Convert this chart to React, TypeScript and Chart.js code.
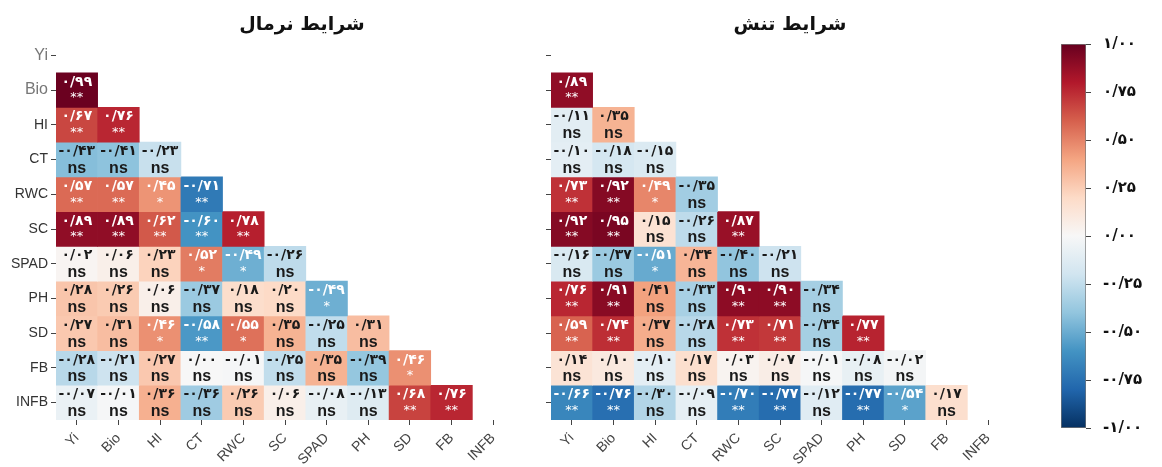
import React, { useEffect, useRef } from 'react';
import { Chart, registerables } from 'chart.js';
Chart.register(...registerables);

const variables = ['Yi', 'Bio', 'HI', 'CT', 'RWC', 'SC', 'SPAD', 'PH', 'SD', 'FB', 'INFB'];

const titleNormal = 'شرایط نرمال';
const titleStress = 'شرایط تنش';

const normalValues: number[][] = [
  [0.99],
  [0.67, 0.76],
  [-0.43, -0.41, -0.23],
  [0.57, 0.57, 0.45, -0.71],
  [0.89, 0.89, 0.62, -0.6, 0.78],
  [0.02, 0.06, 0.23, 0.52, -0.49, -0.26],
  [0.28, 0.26, 0.06, -0.37, 0.18, 0.2, -0.49],
  [0.27, 0.31, 0.46, -0.58, 0.55, 0.35, -0.25, 0.31],
  [-0.28, -0.21, 0.27, 0.0, -0.01, -0.25, 0.35, -0.39, 0.46],
  [-0.07, -0.01, 0.36, -0.36, 0.26, 0.06, -0.08, -0.13, 0.68, 0.76],
];
const normalSig: string[][] = [
  ['**'],
  ['**', '**'],
  ['ns', 'ns', 'ns'],
  ['**', '**', '*', '**'],
  ['**', '**', '**', '**', '**'],
  ['ns', 'ns', 'ns', '*', '*', 'ns'],
  ['ns', 'ns', 'ns', 'ns', 'ns', 'ns', '*'],
  ['ns', 'ns', '*', '**', '*', 'ns', 'ns', 'ns'],
  ['ns', 'ns', 'ns', 'ns', 'ns', 'ns', 'ns', 'ns', '*'],
  ['ns', 'ns', 'ns', 'ns', 'ns', 'ns', 'ns', 'ns', '**', '**'],
];

const stressValues: number[][] = [
  [0.89],
  [-0.11, 0.35],
  [-0.1, -0.18, -0.15],
  [0.73, 0.92, 0.49, -0.35],
  [0.92, 0.95, 0.15, -0.26, 0.87],
  [-0.16, -0.37, -0.51, 0.34, -0.4, -0.21],
  [0.76, 0.91, 0.41, -0.33, 0.9, 0.9, -0.34],
  [0.59, 0.74, 0.37, -0.28, 0.73, 0.71, -0.34, 0.77],
  [0.14, 0.1, -0.1, 0.17, 0.03, 0.07, -0.01, -0.08, -0.02],
  [-0.66, -0.76, -0.3, -0.09, -0.7, -0.77, -0.12, -0.77, -0.54, 0.17],
];
const stressSig: string[][] = [
  ['**'],
  ['ns', 'ns'],
  ['ns', 'ns', 'ns'],
  ['**', '**', '*', 'ns'],
  ['**', '**', 'ns', 'ns', '**'],
  ['ns', 'ns', '*', 'ns', 'ns', 'ns'],
  ['**', '**', 'ns', 'ns', '**', '**', 'ns'],
  ['**', '**', 'ns', 'ns', '**', '**', 'ns', '**'],
  ['ns', 'ns', 'ns', 'ns', 'ns', 'ns', 'ns', 'ns', 'ns'],
  ['**', '**', 'ns', 'ns', '**', '**', 'ns', '**', '*', 'ns'],
];

const colorbarMin = -1;
const colorbarMax = 1;
const colorbarStep = 0.25;

// RdBu_r colormap stops (from -1 to 1)
const rdbuStops = ['#053061', '#2166ac', '#4393c3', '#92c5de', '#d1e5f0', '#f7f7f7', '#fddbc7', '#f4a582', '#d6604d', '#b2182b', '#67001f'];

function hexToRgb(h: string) {
  return [parseInt(h.slice(1, 3), 16), parseInt(h.slice(3, 5), 16), parseInt(h.slice(5, 7), 16)];
}
function rdbu(v: number) {
  const t = Math.max(0, Math.min(1, (v + 1) / 2)) * (rdbuStops.length - 1);
  const i = Math.min(Math.floor(t), rdbuStops.length - 2);
  const f = t - i;
  const a = hexToRgb(rdbuStops[i]);
  const b = hexToRgb(rdbuStops[i + 1]);
  const c = a.map((x, k) => Math.round(x + (b[k] - x) * f));
  return `rgb(${c[0]},${c[1]},${c[2]})`;
}

const faDigits = '۰۱۲۳۴۵۶۷۸۹';
function toPersian(s: string) {
  return s.replace(/\d/g, (d) => faDigits[+d]).replace('.', '/');
}

const persianFont = '"DejaVu Sans", sans-serif';
const latinFont = '"Liberation Sans", Arial, sans-serif';

function heatmapConfig(values: number[][], sig: string[][], showLabels: boolean, yWidth: number, padLeft: number, padRight: number): any {
  const datasets = values.map((row, ri) => {
    const r = ri + 1;
    return {
      data: variables.map((_, j) => (j < row.length ? [r - 0.5, r + 0.5] : null)),
      backgroundColor: variables.map((_, j) => (j < row.length ? rdbu(row[j]) : 'rgba(0,0,0,0)')),
      borderWidth: 0,
      barPercentage: 1,
      categoryPercentage: 1,
      grouped: false,
    };
  });

  const textPlugin = {
    id: 'cellText',
    afterDatasetsDraw(chart: any) {
      const ctx = chart.ctx;
      ctx.save();
      ctx.textAlign = 'center';
      ctx.textBaseline = 'middle';
      values.forEach((row, di) => {
        const meta = chart.getDatasetMeta(di);
        row.forEach((v, j) => {
          const el = meta.data[j];
          if (!el) return;
          const p = el.getProps(['x', 'y', 'base'], true);
          const cx = p.x;
          const cy = (p.y + p.base) / 2;
          const s = sig[di][j];
          const col = s === 'ns' ? '#1a1a1a' : '#ffffff';
          ctx.fillStyle = col;
          ctx.font = `bold 14px ${persianFont}`;
          ctx.fillText(toPersian(v.toFixed(2)), cx, cy - 8);
          if (s === 'ns') {
            ctx.font = `bold 16px ${latinFont}`;
            ctx.fillText(s, cx, cy + 9);
          } else {
            ctx.font = `13px ${persianFont}`;
            ctx.fillText(s, cx, cy + 8);
          }
        });
      });
      ctx.restore();
    },
  };

  return {
    type: 'bar',
    data: { labels: variables, datasets },
    options: {
      animation: false,
      responsive: false,
      devicePixelRatio: 1,
      layout: { padding: { top: 38, left: padLeft, right: padRight, bottom: 0 } },
      plugins: { legend: { display: false }, tooltip: { enabled: false } },
      scales: {
        x: {
          type: 'category',
          offset: true,
          grid: { offset: false, drawOnChartArea: false, drawTicks: true, tickLength: 5, color: '#444' },
          border: { display: false },
          ticks: { minRotation: 45, maxRotation: 45, autoSkip: false, padding: 5, color: '#444', font: { family: latinFont, size: 14 } },
          afterFit: (s: any) => { s.height = 47; },
        },
        y: {
          type: 'linear',
          min: -0.5,
          max: 10.5,
          reverse: true,
          afterBuildTicks: (s: any) => { s.ticks = variables.map((_, i) => ({ value: i })); },
          grid: { drawOnChartArea: false, drawTicks: true, tickLength: 5, color: '#444' },
          border: { display: false },
          ticks: {
            autoSkip: false,
            padding: 3,
            callback: (v: any) => (showLabels ? variables[v] : ''),
            color: (c: any) => (c.index <= 1 ? '#777' : '#333'),
            font: (c: any) => ({ family: latinFont, size: c.index <= 1 ? 16 : 14 }),
          },
          afterFit: (s: any) => { s.width = yWidth; },
        },
      },
    },
    plugins: [textPlugin],
  };
}

function colorbarConfig(): any {
  return {
    type: 'bar',
    data: {
      labels: [''],
      datasets: [
        {
          data: [[colorbarMin, colorbarMax]],
          backgroundColor: (c: any) => {
            const chart = c.chart;
            if (!chart.chartArea) return '#f7f7f7';
            const y = chart.scales.y;
            const g = chart.ctx.createLinearGradient(0, y.getPixelForValue(colorbarMin), 0, y.getPixelForValue(colorbarMax));
            rdbuStops.forEach((col, i) => g.addColorStop(i / (rdbuStops.length - 1), col));
            return g;
          },
          borderColor: '#777',
          borderWidth: 1,
          borderSkipped: false,
          barPercentage: 1,
          categoryPercentage: 1,
        },
      ],
    },
    options: {
      animation: false,
      responsive: false,
      devicePixelRatio: 1,
      layout: { padding: { top: 44, left: 31, right: 0, bottom: 39 } },
      plugins: { legend: { display: false }, tooltip: { enabled: false } },
      scales: {
        x: { display: false },
        y: {
          position: 'right',
          min: colorbarMin,
          max: colorbarMax,
          ticks: {
            stepSize: colorbarStep,
            padding: 12,
            color: '#111',
            font: { family: persianFont, size: 15, weight: 'bold' },
            callback: (v: any) => toPersian(Number(v).toFixed(2)),
          },
          grid: { drawOnChartArea: false, drawTicks: true, tickLength: 5, color: '#444' },
          border: { display: false },
          afterFit: (s: any) => { s.width = 76; },
        },
      },
    },
  };
}

function ChartCanvas({ make, left, width, height }: { make: () => any; left: number; width: number; height: number }) {
  const ref = useRef<HTMLCanvasElement | null>(null);
  useEffect(() => {
    const chart = new Chart(ref.current as HTMLCanvasElement, make());
    return () => chart.destroy();
  }, []);
  return <canvas ref={ref} width={width} height={height} style={{ position: 'absolute', left, top: 0, width, height }} />;
}

export default function App() {
  const titleStyle: React.CSSProperties = {
    position: 'absolute',
    top: 8,
    transform: 'translateX(-50%)',
    fontFamily: persianFont,
    fontWeight: 'bold',
    fontSize: 19,
    direction: 'rtl',
    whiteSpace: 'nowrap',
    color: '#111',
    lineHeight: '30px',
  };
  return (
    <div style={{ position: 'absolute', left: 0, top: 0, width: 1162, height: 467, background: '#fff', overflow: 'hidden' }}>
      <ChartCanvas make={() => heatmapConfig(normalValues, normalSig, true, 56, 0, 16)} left={0} width={530} height={467} />
      <ChartCanvas make={() => heatmapConfig(stressValues, stressSig, false, 31, 0, 16)} left={520} width={505} height={467} />
      <ChartCanvas make={colorbarConfig} left={1030} width={132} height={467} />
      <div style={{ ...titleStyle, left: 302 }}>{titleNormal}</div>
      <div style={{ ...titleStyle, left: 790 }}>{titleStress}</div>
    </div>
  );
}
